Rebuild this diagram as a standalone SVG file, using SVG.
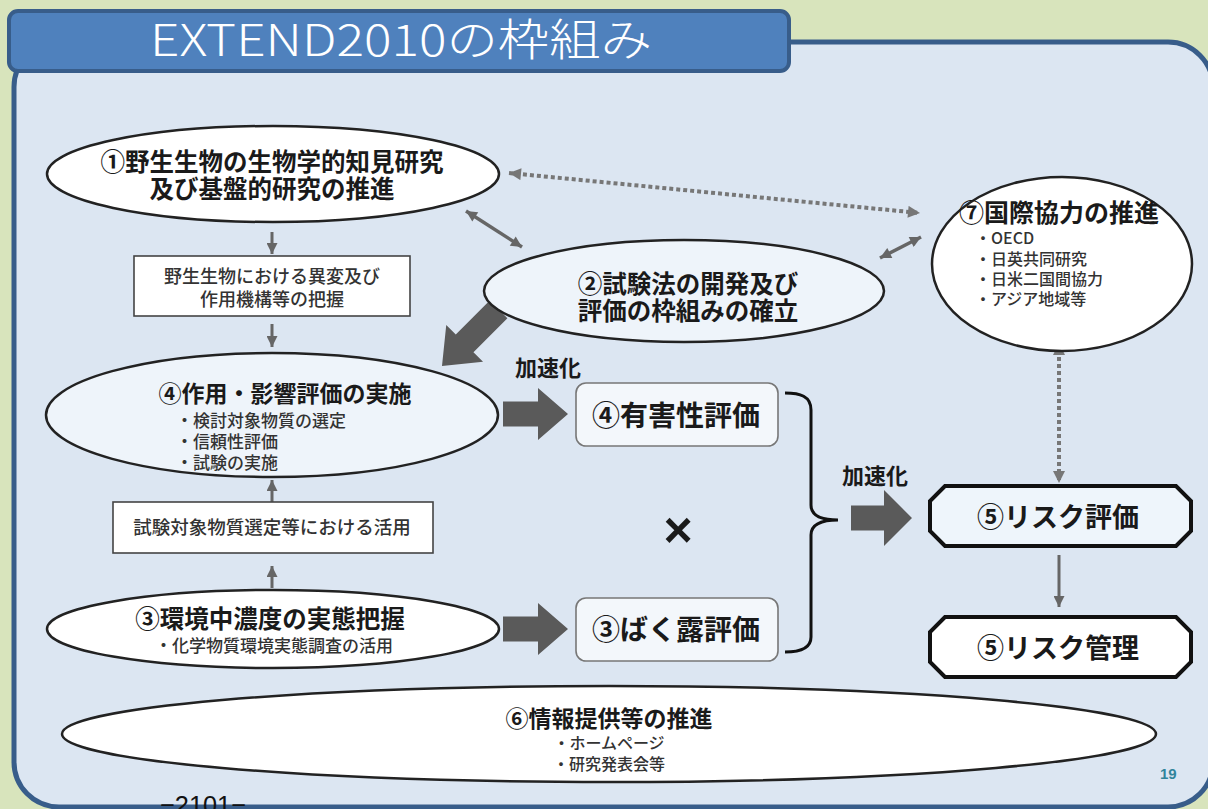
<svg xmlns="http://www.w3.org/2000/svg" width="1208" height="809" viewBox="0 0 1208 809">
<style>
text{font-family:"Noto Sans CJK JP","Noto Sans",sans-serif;fill:#1a1a1a}
.h{font-weight:700;text-anchor:middle}
.b{font-weight:500;fill:#333}
.c{text-anchor:middle}
.el{stroke:#222;stroke-width:2.5}
.bx{fill:#fff;stroke:#444;stroke-width:1.6}
.rb{fill:#f3f7fb;stroke:#777;stroke-width:1.6}
.oc{stroke:#111;stroke-width:4;stroke-linejoin:miter}
.ga{stroke:#666;fill:none}
.blk{fill:#5a5a5a}
</style>
<defs>
<marker id="ah" viewBox="0 0 10 10" refX="10" refY="5" markerWidth="12" markerHeight="11" markerUnits="userSpaceOnUse" orient="auto-start-reverse"><path d="M0,0 L10,5 L0,10 z" fill="#666"/></marker>
<marker id="ahd" viewBox="0 0 10 10" refX="10" refY="5" markerWidth="13" markerHeight="12" markerUnits="userSpaceOnUse" orient="auto-start-reverse"><path d="M0,0 L10,5 L0,10 z" fill="#777"/></marker>
</defs>
<rect width="1208" height="809" fill="#d8e4bc"/>
<rect x="14" y="42" width="1199" height="765" rx="45" fill="#dce6f2" stroke="#385d8a" stroke-width="5"/>
<g id="title">
<rect x="9" y="11" width="780" height="60" rx="9" fill="#4f81bd" stroke="#385d8a" stroke-width="4"/>
<text x="150" y="56" font-size="44" font-weight="300" style="fill:#fff" textLength="502" lengthAdjust="spacingAndGlyphs">EXTEND2010の枠組み</text>
</g>
<g id="connectors">
<line class="ga" x1="272" y1="232" x2="272" y2="254" stroke-width="3" marker-end="url(#ah)"/>
<line class="ga" x1="272" y1="324" x2="272" y2="347" stroke-width="3" marker-end="url(#ah)"/>
<line class="ga" x1="272" y1="502" x2="272" y2="480" stroke-width="3" marker-end="url(#ah)"/>
<line class="ga" x1="272" y1="588" x2="272" y2="566" stroke-width="3" marker-end="url(#ah)"/>
<line class="ga" x1="466" y1="211" x2="522" y2="247" stroke-width="3.5" marker-start="url(#ah)" marker-end="url(#ah)"/>
<line class="ga" x1="880" y1="258" x2="921" y2="237" stroke-width="3.5" marker-start="url(#ah)" marker-end="url(#ah)"/>
<line x1="509" y1="173" x2="920" y2="213" stroke="#777" stroke-width="4" stroke-dasharray="4 3" marker-start="url(#ahd)" marker-end="url(#ahd)"/>
<line x1="1059" y1="343" x2="1059" y2="483" stroke="#777" stroke-width="4" stroke-dasharray="4 3" marker-start="url(#ahd)" marker-end="url(#ahd)"/>
<line class="ga" x1="1059" y1="555" x2="1059" y2="607" stroke-width="3" marker-end="url(#ah)"/>
<polygon class="blk" points="-80,-12.5 -32,-12.5 -32,-26 0,0 -32,26 -32,12.5 -80,12.5" transform="translate(442,366) rotate(135)"/>
<polygon class="blk" points="503,401.5 538,401.5 538,388 568,414 538,440 538,426.5 503,426.5"/>
<polygon class="blk" points="503,616.5 538,616.5 538,603 568,629 538,655 538,641.5 503,641.5"/>
<polygon class="blk" points="851,505.5 884,505.5 884,490 912,518 884,546 884,530.5 851,530.5"/>
<path d="M785,393 C800,393 811,396 811,410 L811,505 C811,515 820,520 838,520 C820,520 811,525 811,535 L811,637 C811,648 800,652 785,652" fill="none" stroke="#111" stroke-width="3"/>
</g>
<g id="n1">
<ellipse class="el" cx="273" cy="174" rx="226" ry="48" fill="#fff"/>
<text class="h" x="272" y="171" font-size="24.5">①野生生物の生物学的知見研究</text>
<text class="h" x="272" y="198" font-size="24.5">及び基盤的研究の推進</text>
</g>
<g id="box1">
<rect class="bx" x="134" y="256" width="276" height="60"/>
<text class="b c" x="272" y="283" font-size="18">野生生物における異変及び</text>
<text class="b c" x="272" y="306" font-size="18">作用機構等の把握</text>
</g>
<g id="n2">
<ellipse class="el" cx="684" cy="291" rx="200" ry="51" fill="#eef4fa"/>
<text class="h" x="688" y="293" font-size="24.5">②試験法の開発及び</text>
<text class="h" x="688" y="320" font-size="24.5">評価の枠組みの確立</text>
</g>
<g id="n7">
<ellipse class="el" cx="1062" cy="264" rx="130" ry="87" fill="#fff"/>
<text class="h" x="1059" y="222" font-size="25">⑦国際協力の推進</text>
<text class="b" x="975" y="244" font-size="16">・OECD</text>
<text class="b" x="975" y="265" font-size="16">・日英共同研究</text>
<text class="b" x="975" y="285" font-size="16">・日米二国間協力</text>
<text class="b" x="975" y="305" font-size="16">・アジア地域等</text>
</g>
<g id="n4">
<ellipse class="el" cx="272" cy="415" rx="226" ry="62" fill="#eef4fa"/>
<text class="h" x="285" y="402" font-size="23">④作用・影響評価の実施</text>
<text class="b" x="176" y="427" font-size="17">・検討対象物質の選定</text>
<text class="b" x="176" y="448" font-size="17">・信頼性評価</text>
<text class="b" x="176" y="469" font-size="17">・試験の実施</text>
</g>
<g id="accel1"><text class="h" x="548" y="376" font-size="22" style="font-weight:600">加速化</text></g>
<g id="hazard">
<rect class="rb" x="576" y="383" width="202" height="63" rx="10"/>
<text class="h" x="676" y="426" font-size="28">④有害性評価</text>
</g>
<g id="times"><text class="c" x="678" y="547" font-size="50" style="font-family:'Liberation Sans',sans-serif;font-weight:700">×</text></g>
<g id="box2">
<rect class="bx" x="113" y="502" width="320" height="51"/>
<text class="b c" x="272" y="534" font-size="18.5">試験対象物質選定等における活用</text>
</g>
<g id="n3">
<ellipse class="el" cx="273" cy="629" rx="226" ry="39" fill="#fff"/>
<text class="h" x="270" y="628" font-size="24.5">③環境中濃度の実態把握</text>
<text class="b c" x="274" y="652" font-size="17">・化学物質環境実態調査の活用</text>
</g>
<g id="exposure">
<rect class="rb" x="576" y="598" width="202" height="63" rx="10"/>
<text class="h" x="676" y="640" font-size="28">③ばく露評価</text>
</g>
<g id="accel2"><text class="h" x="875" y="484" font-size="22" style="font-weight:600">加速化</text></g>
<g id="risk-eval">
<polygon class="oc" points="945,486 1176,486 1191,501 1191,531 1176,546 945,546 930,531 930,501" fill="#eef5fb"/>
<text class="h" x="1058" y="527" font-size="27">⑤リスク評価</text>
</g>
<g id="risk-mgmt">
<polygon class="oc" points="945,617 1176,617 1191,632 1191,662 1176,677 945,677 930,662 930,632" fill="#fff"/>
<text class="h" x="1058" y="658" font-size="27">⑤リスク管理</text>
</g>
<g id="n6">
<ellipse class="el" cx="609" cy="734" rx="547" ry="48" fill="#fff"/>
<text class="h" x="609" y="727" font-size="23">⑥情報提供等の推進</text>
<text class="b c" x="609" y="749" font-size="16">・ホームページ</text>
<text class="b c" x="609" y="770" font-size="16">・研究発表会等</text>
</g>
<text x="1160" y="779" font-size="15" font-weight="700" style="font-family:'Liberation Sans',sans-serif;fill:#31849b">19</text>
<text x="160" y="814" font-size="26" textLength="86" lengthAdjust="spacingAndGlyphs" style="font-family:'Liberation Sans',sans-serif;fill:#111">−2101−</text>
</svg>
